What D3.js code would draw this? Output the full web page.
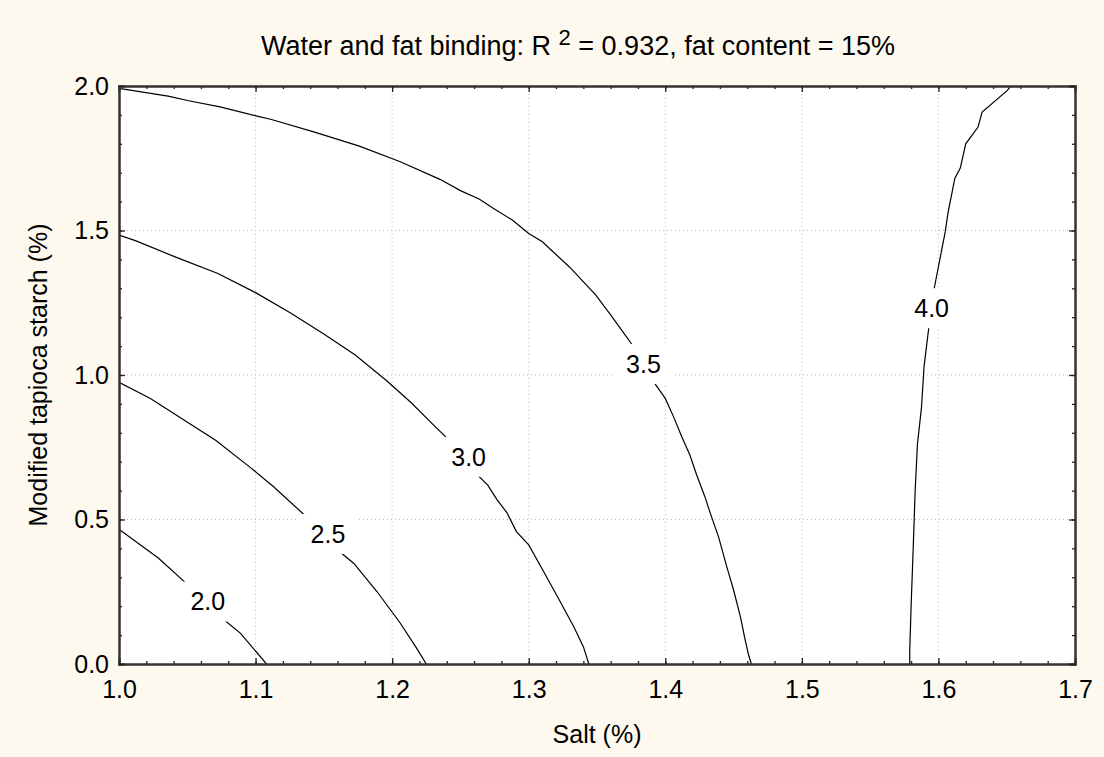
<!DOCTYPE html>
<html>
<head>
<meta charset="utf-8">
<script src="https://cdn.jsdelivr.net/npm/d3@7"></script>
<style>
  body { margin: 0; background: #fdf9ee; }
  svg { display: block; font-family: "Liberation Sans", Arial, sans-serif; }
</style>
</head>
<body>
<div class="chart"></div>
<script>
const width = 1104
const height = 757
const margin = { top: 86, right: 29, bottom: 93, left: 119 }

// contour lines, [salt %, starch %]
const level20 = [[1.0, 0.466], [1.029, 0.366], [1.048, 0.284], [1.065, 0.216], [1.078, 0.149], [1.089, 0.106], [1.108, 0]]
const level25 = [[1.0, 0.975], [1.023, 0.919], [1.045, 0.852], [1.071, 0.773], [1.097, 0.677], [1.113, 0.614], [1.135, 0.519],
  [1.153, 0.45], [1.163, 0.383], [1.172, 0.348], [1.189, 0.25], [1.206, 0.141], [1.218, 0.054], [1.225, 0]]
const level30 = [[1.0, 1.484], [1.012, 1.465], [1.042, 1.407], [1.072, 1.352], [1.1, 1.285], [1.125, 1.216], [1.15, 1.142],
  [1.173, 1.069], [1.196, 0.98], [1.214, 0.904], [1.228, 0.838], [1.239, 0.787], [1.256, 0.717], [1.263, 0.652],
  [1.27, 0.619], [1.277, 0.567], [1.284, 0.524], [1.291, 0.458], [1.3, 0.412], [1.311, 0.319], [1.323, 0.216],
  [1.333, 0.129], [1.34, 0.06], [1.344, 0]]
const level35 = [[1.0, 1.992], [1.036, 1.965], [1.051, 1.949], [1.074, 1.928], [1.101, 1.896], [1.111, 1.885], [1.142, 1.842],
  [1.176, 1.792], [1.206, 1.738], [1.235, 1.677], [1.25, 1.638], [1.264, 1.608], [1.274, 1.577], [1.288, 1.536],
  [1.3, 1.49], [1.31, 1.461], [1.317, 1.43], [1.33, 1.373], [1.349, 1.277], [1.36, 1.208], [1.37, 1.142],
  [1.375, 1.11], [1.384, 1.038], [1.392, 0.973], [1.4, 0.919], [1.406, 0.856], [1.412, 0.787], [1.418, 0.723],
  [1.423, 0.654], [1.429, 0.579], [1.433, 0.521], [1.439, 0.44], [1.445, 0.337], [1.45, 0.256], [1.455, 0.164],
  [1.458, 0.094], [1.461, 0.031], [1.463, 0]]
const level40 = [[1.579, 0], [1.579, 0.047], [1.58, 0.2], [1.5815, 0.397], [1.583, 0.603], [1.5846, 0.759], [1.5876, 0.888],
  [1.5895, 1.03], [1.593, 1.166], [1.596, 1.231], [1.597, 1.302], [1.605, 1.496], [1.607, 1.561], [1.612, 1.68],
  [1.616, 1.716], [1.62, 1.8], [1.629, 1.858], [1.632, 1.91], [1.6505, 1.985], [1.653, 2.0]]

const contours = [level20, level25, level30, level35, level40]
const labelText = ['2.0', '2.5', '3.0', '3.5', '4.0']
const labelX = [1.065, 1.153, 1.256, 1.384, 1.595]
const labelY = [0.216, 0.45, 0.717, 1.038, 1.231]

const xTicks = [1.0, 1.1, 1.2, 1.3, 1.4, 1.5, 1.6, 1.7]
const yTicks = [0.0, 0.5, 1.0, 1.5, 2.0]

const fontSize = 25
const innerW = width - margin.left - margin.right
const innerH = height - margin.top - margin.bottom

const svg = d3.select('.chart')
  .append('svg')
  .attr('width', width)
  .attr('height', height)

const x = d3.scaleLinear().domain([1.0, 1.7]).range([margin.left, margin.left + innerW])
const y = d3.scaleLinear().domain([0, 2]).range([margin.top + innerH, margin.top])

svg.append('rect')
  .attr('x', margin.left)
  .attr('y', margin.top)
  .attr('width', innerW)
  .attr('height', innerH)
  .attr('fill', '#fff')

svg.append('clipPath').attr('id', 'plot')
  .append('rect')
  .attr('x', margin.left)
  .attr('y', margin.top)
  .attr('width', innerW)
  .attr('height', innerH)

// dotted grid
const grid = svg.append('g').attr('stroke', '#bdbdbd').attr('stroke-width', 1).attr('stroke-dasharray', '1,3')
grid.selectAll('.gx').data(xTicks.slice(1, -1)).enter().append('line')
  .attr('x1', d => x(d)).attr('x2', d => x(d))
  .attr('y1', margin.top).attr('y2', margin.top + innerH)
grid.selectAll('.gy').data(yTicks.slice(1, -1)).enter().append('line')
  .attr('x1', margin.left).attr('x2', margin.left + innerW)
  .attr('y1', d => y(d)).attr('y2', d => y(d))

const line = d3.line().x(d => x(d[0])).y(d => y(d[1]))

svg.append('g')
  .attr('clip-path', 'url(#plot)')
  .selectAll('path')
  .data(contours)
  .enter()
  .append('path')
  .attr('d', line)
  .attr('fill', 'none')
  .attr('stroke', '#000')
  .attr('stroke-width', 1.2)

// contour labels with white box
const labels = svg.append('g')
labelText.forEach((t, i) => {
  const g = labels.append('g').attr('transform', `translate(${x(labelX[i])},${y(labelY[i])})`)
  g.append('rect')
    .attr('x', -29).attr('y', -20)
    .attr('width', 58).attr('height', 40)
    .attr('fill', '#fff')
  g.append('text')
    .attr('text-anchor', 'middle')
    .attr('dy', '0.35em')
    .attr('font-size', fontSize)
    .text(t)
})

// axes with inward ticks on all sides
const xMinor = d3.range(1.0, 1.7001, 0.02)
const yMinor = d3.range(0, 2.0001, 0.1)

svg.append('g')
  .attr('transform', `translate(0,${margin.top + innerH})`)
  .call(d3.axisBottom(x).tickValues(xMinor).tickSize(-3).tickFormat(''))
svg.append('g')
  .attr('transform', `translate(0,${margin.top + innerH})`)
  .call(d3.axisBottom(x).tickValues(xTicks).tickSize(-6).tickPadding(16).tickFormat(d3.format('.1f')))
svg.append('g')
  .attr('transform', `translate(0,${margin.top})`)
  .call(d3.axisTop(x).tickValues(xMinor).tickSize(-3).tickFormat(''))
svg.append('g')
  .attr('transform', `translate(0,${margin.top})`)
  .call(d3.axisTop(x).tickValues(xTicks).tickSize(-6).tickFormat(''))

svg.append('g')
  .attr('transform', `translate(${margin.left},0)`)
  .call(d3.axisLeft(y).tickValues(yMinor).tickSize(-3).tickFormat(''))
svg.append('g')
  .attr('transform', `translate(${margin.left},0)`)
  .call(d3.axisLeft(y).tickValues(yTicks).tickSize(-6).tickPadding(10).tickFormat(d3.format('.1f')))
svg.append('g')
  .attr('transform', `translate(${margin.left + innerW},0)`)
  .call(d3.axisRight(y).tickValues(yMinor).tickSize(-3).tickFormat(''))
svg.append('g')
  .attr('transform', `translate(${margin.left + innerW},0)`)
  .call(d3.axisRight(y).tickValues(yTicks).tickSize(-6).tickFormat(''))

svg.selectAll('.domain').attr('stroke', '#333').attr('stroke-width', 2)
svg.selectAll('.tick line').attr('stroke', '#222').attr('stroke-width', 1.3)
svg.selectAll('.tick text')
  .attr('font-size', fontSize)
  .attr('font-family', '"Liberation Sans", Arial, sans-serif')
  .attr('fill', '#000')

// title
const title = svg.append('text')
  .attr('x', 578)
  .attr('y', 55)
  .attr('text-anchor', 'middle')
  .attr('font-size', 27)
title.append('tspan').text('Water and fat binding: R ')
title.append('tspan').attr('dy', -10).attr('font-size', 22).text('2')
title.append('tspan').attr('dy', 10).text(' = 0.932, fat content = 15%')

svg.append('text')
  .attr('x', margin.left + innerW / 2)
  .attr('y', 743)
  .attr('text-anchor', 'middle')
  .attr('font-size', fontSize)
  .text('Salt (%)')

svg.append('text')
  .attr('transform', `translate(47,${margin.top + innerH / 2}) rotate(-90)`)
  .attr('text-anchor', 'middle')
  .attr('font-size', fontSize)
  .text('Modified tapioca starch (%)')
</script>
</body>
</html>
